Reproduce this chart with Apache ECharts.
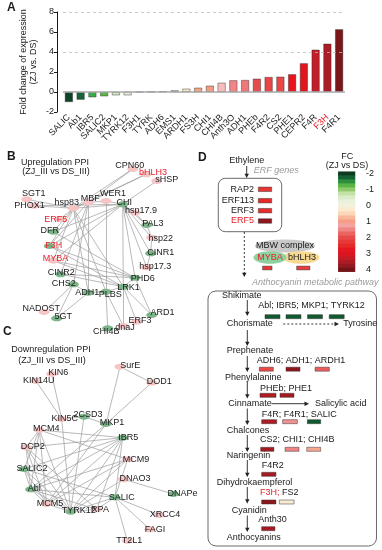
<!DOCTYPE html>
<html><head><meta charset="utf-8">
<script src="https://cdn.jsdelivr.net/npm/echarts@6/dist/echarts.min.js"></script>
<style>html,body{margin:0;padding:0;background:#fff}#c{width:382px;height:550px}</style>
</head><body><div id="c"></div>
<script>
const FONT = '"Liberation Sans", Arial, sans-serif';

// ---------- Panel A data ----------
const genes = ['SALIC','Ab1','IBR5','SALIC2','MKP1','TYRK12','F3H1','TYRK','ADH6','EMS1','ARDH1','FS3H','CHI1','CHI4B','Anth3O','ADH1','PHEb','F4R2','CS2','PHE1','CEPR2','F4R','F3H','F4R1'];
const foldChange = [-1.0,-0.77,-0.53,-0.43,-0.33,-0.33,0,0.03,0.05,0.17,0.33,0.43,0.63,0.93,1.17,1.2,1.33,1.5,1.53,1.77,2.87,4.23,4.83,6.27];
const barColors = ['#0e4326','#17633a','#3cae45','#5cb846','#cfe8c4','#e3efda','#eeeeee','#d8d8c8','#dcdcc8','#e2dcc6','#f8e6c2','#f5a581','#f49c82','#f7bcbc','#f08686','#ee7878','#e84b4b','#e84646','#e84848','#e8151f','#e0161f','#c41e29','#ad1b26','#7a1719'];
const yTicks = [-2, 0, 2, 4, 6, 8];

// ---------- Panel B network ----------
const upNames = ['CPN60','bHLH3','sHSP','SGT1','PHOX1','hsp83','MBF','WER1','CHI','hsp17.9','PAL3','hsp22','CINR1','hsp17.3','PHD6','LRK1','PLBS','ADH1','CHS2','CINR2','MYBA','F3H','DFR','ERF5','NADOST','5GT','CHI4B','dnaJ','ERF3','ARD1'];
const upType = ['p','p','p','p','p','p','p','p','g','p','g','p','g','p','g','g','g','g','g','g','p','g','g','p','p','g','g','p','p','g'];
const upRed = ['bHLH3','MYBA','F3H','ERF5'];
const upLinks = [
['CPN60','MBF'],['CPN60','hsp83'],['bHLH3','MBF'],['bHLH3','hsp83'],['sHSP','CHI'],
['SGT1','hsp83'],['PHOX1','hsp83'],['PHOX1','CHI'],
['hsp83','MBF'],['MBF','WER1'],['WER1','CHI'],['hsp83','CHI'],['WER1','PLBS'],
['CHI','hsp17.9'],['CHI','PAL3'],['CHI','hsp22'],['CHI','CINR1'],['CHI','hsp17.3'],['CHI','PHD6'],['CHI','LRK1'],
['CHI','DFR'],['CHI','F3H'],['CHI','MYBA'],
['hsp17.9','PAL3'],['PAL3','hsp22'],['hsp22','CINR1'],['CINR1','hsp17.3'],
['hsp83','ERF5'],['hsp83','DFR'],['hsp83','F3H'],['hsp83','MYBA'],['hsp83','ADH1'],['hsp83','PLBS'],['hsp83','LRK1'],
['MBF','F3H'],['MBF','CINR2'],['MBF','CHS2'],['MBF','ADH1'],
['DFR','PHD6'],['F3H','PHD6'],['MYBA','PHD6'],['CINR2','PHD6'],['F3H','LRK1'],['MYBA','LRK1'],['CINR2','LRK1'],
['CHS2','ADH1'],['ADH1','PLBS'],['PLBS','LRK1'],['LRK1','PHD6'],
['CHS2','NADOST'],['CHS2','5GT'],['ADH1','5GT'],['PLBS','CHI4B'],['LRK1','dnaJ'],['LRK1','ERF3'],['LRK1','ARD1'],['PHD6','ARD1'],['PLBS','dnaJ']
];

// ---------- Panel C network ----------
const downNames = ['KIN6','KIN14U','SurE','DOD1','KIN5C','2CSD3','MKP1','MCM4','IBR5','DCP2','MCM9','SALIC2','DNAO3','DNAPe','Abl','SALIC','MCM5','TYRK12','RPA','XRCC4','FAGI','TT2L1'];
const downType = ['p','p','p','p','p','g','g','p','g','p','p','g','p','g','g','g','p','g','p','p','p','p'];
const downLinks = [
['KIN6','KIN5C'],['KIN14U','KIN5C'],['SurE','DOD1'],['SurE','MKP1'],['DOD1','MKP1'],
['KIN5C','2CSD3'],['2CSD3','MKP1'],['KIN5C','TYRK12'],['2CSD3','TYRK12'],
['MCM4','IBR5'],['MCM4','MCM9'],['MCM4','DCP2'],['MCM4','SALIC2'],['MCM4','Abl'],['MCM4','MCM5'],['MCM4','TYRK12'],
['IBR5','DCP2'],['IBR5','SALIC2'],['IBR5','Abl'],['IBR5','MCM5'],['IBR5','TYRK12'],['IBR5','RPA'],['IBR5','SALIC'],
['MKP1','Abl'],['MKP1','MCM5'],
['MCM9','Abl'],['MCM9','MCM5'],['MCM9','TYRK12'],['MCM9','SALIC'],
['DCP2','Abl'],['DCP2','MCM5'],['DCP2','TYRK12'],['DCP2','RPA'],
['SALIC2','Abl'],['SALIC2','MCM5'],['SALIC2','TYRK12'],['SALIC2','SALIC'],
['Abl','MCM5'],['Abl','TYRK12'],['Abl','RPA'],['Abl','SALIC'],
['MCM5','TYRK12'],['TYRK12','RPA'],['RPA','SALIC'],['TYRK12','SALIC'],
['DNAO3','DNAPe'],['DNAO3','TYRK12'],['SALIC','XRCC4'],['SALIC','FAGI'],['SALIC','TT2L1']
];

// ---------- Panel D data ----------
const fcLevels = [];
for (let i = 0; i <= 24; i++) fcLevels.push(-2 + i * 0.25);
const fcColors = ['#0b3b21','#136233','#2b8f3e','#58b545','#8fcb6b','#c3e2a8','#dcecca','#e9f1dc','#f3f1dc','#f9ead0','#fbd8b8','#f8b899','#f59d86','#f4a3a3','#f08585','#ec6363','#e84a4a','#e63a3a','#e52828','#e6161e','#dc1420','#c81a22','#b01a22','#951820','#741418'];
const pathGenes = ['RAP2','ERF113','ERF3','ERF5','MYBA','bHLH3','Abl','IBR5','MKP1','TYRK12','ADH6','ADH1','ARDH1','PHEb','PHE1','F4R','F4R1','SALIC','CS2','CHI1','CHI4B','F4R2','F3H','FS2','Anth30'];
const pathFC = [2.3,2.5,2.4,3.8,2.3,2.2,-1.8,-1.8,-1.8,-1.8,2.0,3.8,1.8,3.5,3.6,3.5,1.4,-1.8,3.6,1.5,0.9,3.6,3.8,0.2,3.6];

// ---------- layout (pixel positions, not data) ----------
const layoutB = {
CPN60:[132.7,169,129.7,165.7], bHLH3:[146,174.3,153,172.7], sHSP:[156.7,181,166.7,180],
SGT1:[26.7,199.3,33.8,193.3], PHOX1:[34,205.7,29.5,205.7], hsp83:[73.3,208.3,66.7,202.3],
MBF:[88.3,202.3,90.3,198.3], WER1:[106,201,113,194], CHI:[122.7,204.3,124.2,202.7],
'hsp17.9':[135,212.7,141,211], PAL3:[146.7,225,152.8,223.3], hsp22:[151.7,237.7,160.7,238.3],
CINR1:[150.7,253.3,160.7,252.7], 'hsp17.3':[146.7,267.3,155.3,266.7], PHD6:[135,277.7,142.8,279],
LRK1:[123.3,286.7,128.5,287.7], PLBS:[106,291.7,110.2,295], ADH1:[88.3,292.7,87.2,292.7],
CHS2:[73.3,284.3,63.8,284], CINR2:[60.7,274.3,61.2,272.3], MYBA:[53.3,260.7,55.5,259],
F3H:[49.3,246,53.8,245.3], DFR:[53.3,231.7,49.7,231], ERF5:[60,219,55.8,219.3],
NADOST:[44,312,41.2,309], '5GT':[56.7,318.3,63.3,316.7], CHI4B:[107.7,328.3,106.2,331.7],
dnaJ:[123.3,326,125,327.3], ERF3:[136.7,321.7,140,320.7], ARD1:[151.7,315,162.5,312.3]
};
const layoutC = {
KIN6:[51.7,374,58.3,372.7], KIN14U:[36,381,38.8,381], SurE:[120,366.7,130.3,365.7],
DOD1:[151.7,382.7,159.2,381.7], KIN5C:[61.7,419,64.7,418.3], '2CSD3':[84,416.7,88,415],
MKP1:[106,424,112,422.7], MCM4:[39.3,430,46.3,428.3], IBR5:[122.7,437.7,128.3,437.7],
DCP2:[26,447.3,32.8,446.7], MCM9:[127.7,459.3,136,459.3], SALIC2:[24,469,32,469],
DNAO3:[123.3,479.3,135,479], DNAPe:[173.3,494,182.5,493.3], Abl:[30.7,489.3,34.2,488.3],
SALIC:[115,497.3,121.7,497.7], MCM5:[46.7,504,50,504], TYRK12:[70.7,511.7,78.7,511],
RPA:[96.7,509.3,100,509.3], XRCC4:[159.3,515,165,515], FAGI:[150,529.3,155,529.3], TT2L1:[127.3,540.7,129.2,540.7]
};
const layoutRects = [ // cx, cy, w, h
[265,189.3,13.4,4.5],[265,200.7,13.4,4.5],[265,210.7,13.4,4.5],[265,221,13.4,4.5],
[267.3,268,9.5,3.8],[303.3,268,13.3,3.8],
[272.5,316.7,15,4],[293.5,316.7,15,4],[315,316.7,15,4],[336.7,316.7,15,4],
[266.3,369.2,14,4],[293,369.2,14,4],[322.2,369.2,14.3,4],
[268,395.3,16,4],[287,395.3,14,4],
[269.2,421.7,15,4],[290,421.7,14.7,4],[314,421.7,13.4,4],
[267.3,449.3,13.3,4],[292,449.3,14,4],[313.7,449.3,14,4],
[268.8,474.3,14.3,4],
[268.8,502,14.3,4],[286.7,502,14.7,4],
[268.3,528.7,13.3,4]
];

function buildNodes(names, types, layout, reds) {
  return names.map((n, i) => {
    const L = layout[n];
    return {
      name: n, value: [L[0], L[1]],
      itemStyle: { color: types[i] === 'p' ? '#f6c4c4' : '#7db58a' },
      label: { offset: [L[2] - L[0], L[3] - L[1]], color: (reds || []).includes(n) ? '#e8202a' : '#1a1a1a' }
    };
  });
}
const graphCommon = {
  type: 'graph', coordinateSystem: 'cartesian2d', xAxisIndex: 1, yAxisIndex: 1,
  symbol: 'circle', symbolSize: [11, 6], roam: false, silent: true,
  lineStyle: { color: '#9c9c9c', width: 0.7, opacity: 1, curveness: 0 },
  label: { show: true, position: 'inside', fontSize: 9, fontFamily: FONT, align: 'center', verticalAlign: 'middle' },
  emphasis: { disabled: true }
};

// ---------- graphic helpers ----------
function T(x, y, s, o) {
  o = o || {};
  return { type: 'text', x: x, y: y, rotation: o.rot || 0, z: 10, silent: true,
    style: { text: s, fontSize: o.size || 9, fontFamily: FONT, fontWeight: o.bold ? 'bold' : 'normal',
      fontStyle: o.italic ? 'italic' : 'normal', fill: o.color || '#1a1a1a',
      textAlign: o.align || 'left', textVerticalAlign: 'middle', align: o.align || 'left', verticalAlign: 'middle',
      lineHeight: o.lh || 10 } };
}
function vArrow(x, y1, y2, dashed) {
  return [
    { type: 'line', z: 10, silent: true, shape: { x1: x, y1: y1, x2: x, y2: y2 - 3 }, style: { stroke: '#222', lineWidth: 0.9, lineDash: dashed ? [2, 2] : null } },
    { type: 'polygon', z: 10, silent: true, shape: { points: [[x - 2.2, y2 - 4.2], [x + 2.2, y2 - 4.2], [x, y2]] }, style: { fill: '#222' } }
  ];
}
function hArrow(x1, x2, y, dashed) {
  return [
    { type: 'line', z: 10, silent: true, shape: { x1: x1, y1: y, x2: x2 - 3, y2: y }, style: { stroke: '#222', lineWidth: 0.9, lineDash: dashed ? [2, 2] : null } },
    { type: 'polygon', z: 10, silent: true, shape: { points: [[x2 - 4.5, y - 2.2], [x2 - 4.5, y + 2.2], [x2, y]] }, style: { fill: '#222' } }
  ];
}

const graphics = [
  T(7, 8, 'A', { bold: true, size: 12 }),
  T(29, 62, 'Fold change of expression\n(ZJ vs. DS)', { rot: Math.PI / 2, align: 'center', lh: 10 }),
  T(7, 157, 'B', { bold: true, size: 12 }),
  T(55, 162.3, 'Upregulation PPI', { align: 'center' }),
  T(56, 171.7, '(ZJ_III vs DS_III)', { align: 'center' }),
  T(3, 331.7, 'C', { bold: true, size: 12 }),
  T(51, 349.3, 'Downregulation PPI', { align: 'center' }),
  T(52, 361, '(ZJ_III vs DS_III)', { align: 'center' }),
  T(198, 157.3, 'D', { bold: true, size: 12 }),
  T(246.7, 160.7, 'Ethylene', { align: 'center' }),
  ...vArrow(246.7, 166, 178),
  T(276.3, 170.7, 'ERF genes', { align: 'center', italic: true, color: '#9a9a9a' }),
  { type: 'rect', z: 5, silent: true, shape: { x: 218.3, y: 178.3, width: 63.4, height: 53.4, r: 7 }, style: { fill: 'none', stroke: '#444', lineWidth: 0.8 } },
  T(254, 189.3, 'RAP2', { align: 'right' }),
  T(254, 200.7, 'ERF113', { align: 'right' }),
  T(254, 210.7, 'ERF3', { align: 'right' }),
  T(254, 221, 'ERF5', { align: 'right', color: '#e8202a' }),
  ...vArrow(244.3, 232, 277, true),
  { type: 'ellipse', z: 6, silent: true, shape: { cx: 285, cy: 246, rx: 30, ry: 6.5 }, style: { fill: '#c9c9c9' } },
  T(285, 246, 'MBW complex', { align: 'center' }),
  { type: 'ellipse', z: 6, silent: true, shape: { cx: 301, cy: 257.5, rx: 18.5, ry: 6.3 }, style: { fill: '#f8d992' } },
  { type: 'ellipse', z: 7, silent: true, shape: { cx: 270, cy: 257.5, rx: 16.5, ry: 6.3 }, style: { fill: '#8fd0a0' } },
  T(270, 257.5, 'MYBA', { align: 'center', color: '#e8202a' }),
  T(302, 257.5, 'bHLH3', { align: 'center' }),
  T(315.3, 282.7, 'Anthocyanin metabolic pathway', { align: 'center', italic: true, color: '#9a9a9a' }),
  T(347.3, 156.7, 'FC', { align: 'center' }),
  T(347, 165.3, '(ZJ vs DS)', { align: 'center' }),
  { type: 'rect', z: 5, silent: true, shape: { x: 208, y: 291, width: 168.5, height: 255, r: 8 }, style: { fill: 'none', stroke: '#444', lineWidth: 0.8 } },
  T(241.7, 295.7, 'Shikimate', { align: 'center' }),
  ...vArrow(247.3, 300, 316),
  T(258.3, 306, 'Abl; IBR5; MKP1; TYRK12'),
  T(226.7, 324, 'Chorismate'),
  ...hArrow(283.3, 339, 324, true),
  T(343.3, 324, 'Tyrosine'),
  ...vArrow(247.3, 330, 346),
  T(226.7, 351, 'Prephenate'),
  T(256.7, 361, 'ADH6; ADH1; ARDH1'),
  ...vArrow(247.3, 356, 372),
  T(225, 377.3, 'Phenylalanine'),
  ...vArrow(247.3, 382, 398.5),
  T(260, 388.3, 'PHEb; PHE1'),
  T(228.3, 403.7, 'Cinnamate'),
  ...hArrow(271.7, 309, 403.7),
  T(315, 403.7, 'Salicylic acid'),
  ...vArrow(247.3, 408.5, 425),
  T(261.7, 414.3, 'F4R; F4R1; SALIC'),
  T(226.7, 430.7, 'Chalcones'),
  ...vArrow(247.3, 435, 452),
  T(260, 440, 'CS2; CHI1; CHI4B'),
  T(226.7, 455.3, 'Naringenin'),
  ...vArrow(247.3, 460, 477),
  T(261.7, 465.7, 'F4R2'),
  T(216.7, 482.7, 'Dihydrokaempferol'),
  ...vArrow(247.3, 487, 503.5),
  { type: 'text', x: 260, y: 492.7, z: 10, silent: true, style: { text: '{r|F3H;} FS2', fontSize: 9, fontFamily: FONT, fill: '#1a1a1a', align: 'left', verticalAlign: 'middle', textAlign: 'left', textVerticalAlign: 'middle', rich: { r: { fill: '#e8202a', fontSize: 9, fontFamily: FONT } } } },
  T(231.7, 511, 'Cyanidin'),
  ...vArrow(247.3, 515.5, 532),
  T(258.3, 520, 'Anth30'),
  T(226.7, 537.3, 'Anthocyanins')
];

const option = {
  animation: false,
  backgroundColor: '#fff',
  textStyle: { fontFamily: FONT },
  grid: [
    { left: 63, top: 12, width: 282, height: 100 },
    { left: 0, top: 0, width: 382, height: 550 },
    { left: 338.3, top: 171.7, width: 16.7, height: 100 }
  ],
  xAxis: [
    { gridIndex: 0, type: 'category', data: genes, axisLine: { show: false }, axisTick: { show: false },
      axisLabel: { rotate: 45, interval: 0, fontSize: 9, color: '#1a1a1a', margin: 4, fontFamily: FONT,
        formatter: v => v === 'F3H' ? '{r|F3H}' : v, rich: { r: { color: '#e8202a', fontSize: 9, fontFamily: FONT } } } },
    { gridIndex: 1, type: 'value', min: 0, max: 382, show: false },
    { gridIndex: 2, type: 'category', data: ['fc'], show: false }
  ],
  yAxis: [
    { gridIndex: 0, type: 'value', min: -2, max: 8, interval: 2, offset: 6,
      axisLine: { show: true, lineStyle: { color: '#1a1a1a', width: 1 } },
      axisTick: { show: true, length: 3, lineStyle: { color: '#1a1a1a' } },
      axisLabel: { fontSize: 9, color: '#1a1a1a', margin: 3, fontFamily: FONT, customValues: yTicks },
      splitLine: { show: false } },
    { gridIndex: 1, type: 'value', min: 0, max: 550, inverse: true, show: false },
    { gridIndex: 2, type: 'category', data: fcLevels.map(String), inverse: true, position: 'right',
      axisLine: { show: false }, axisTick: { show: false },
      axisLabel: { interval: 0, fontSize: 9, color: '#1a1a1a', margin: 11, fontFamily: FONT,
        formatter: v => Number.isInteger(Number(v)) ? v : '' } }
  ],
  visualMap: {
    type: 'continuous', min: -2, max: 4, show: false, dimension: 2, seriesIndex: [3, 4],
    inRange: { color: fcColors }
  },
  series: [
    { type: 'bar', xAxisIndex: 0, yAxisIndex: 0, barWidth: 8,
      data: foldChange.map((v, i) => ({ value: v, itemStyle: { color: barColors[i] } })),
      itemStyle: { borderColor: 'rgba(40,40,40,0.7)', borderWidth: 0.6 },
      markLine: { silent: true, symbol: 'none', label: { show: false },
        data: [
          { yAxis: 8, lineStyle: { color: '#bbb', type: [3, 3], width: 0.8 } },
          { yAxis: 4, lineStyle: { color: '#bbb', type: [3, 3], width: 0.8 } },
          { yAxis: 0, lineStyle: { color: '#a8a8a8', type: 'solid', width: 1.6 } }
        ] } },
    Object.assign({}, graphCommon, {
      data: buildNodes(upNames, upType, layoutB, upRed),
      links: upLinks.map(l => ({ source: l[0], target: l[1] }))
    }),
    Object.assign({}, graphCommon, {
      data: buildNodes(downNames, downType, layoutC, []),
      links: downLinks.map(l => ({ source: l[0], target: l[1] }))
    }),
    { type: 'heatmap', xAxisIndex: 2, yAxisIndex: 2, silent: true,
      data: fcLevels.map((v, i) => [0, i, v]) },
    { type: 'scatter', xAxisIndex: 1, yAxisIndex: 1, symbol: 'rect', silent: true, z: 12,
      itemStyle: { borderColor: 'rgba(50,50,50,0.8)', borderWidth: 0.5, opacity: 1 },
      data: pathGenes.map((g, i) => ({ name: g, value: [layoutRects[i][0], layoutRects[i][1], pathFC[i]], symbolSize: [layoutRects[i][2], layoutRects[i][3]] })) }
  ],
  graphic: graphics
};

const chart = echarts.init(document.getElementById('c'), null, { renderer: 'canvas' });
chart.setOption(option);
</script>
</body></html>
